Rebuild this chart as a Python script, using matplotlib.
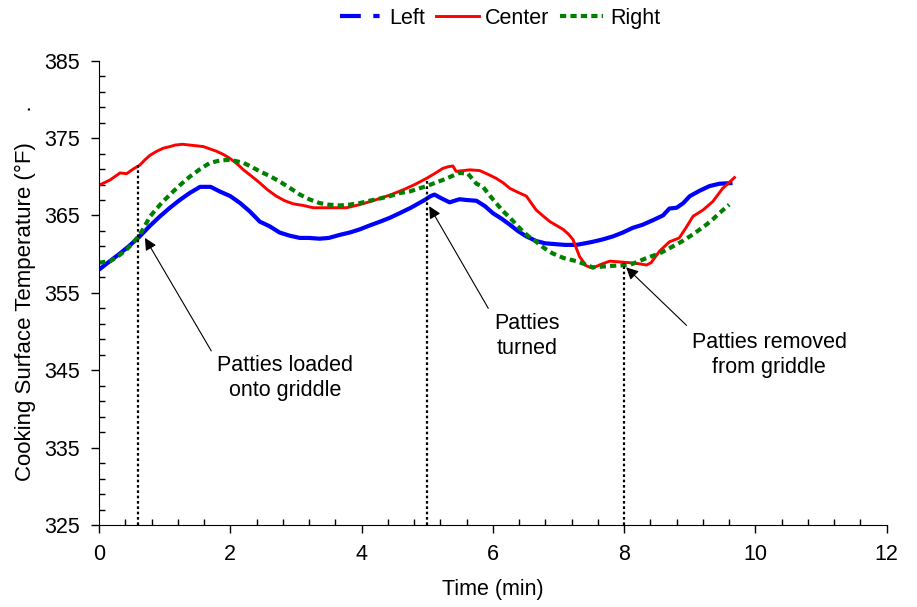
import matplotlib
matplotlib.use('Agg')
import matplotlib.pyplot as plt
from matplotlib.lines import Line2D
from matplotlib.ticker import MultipleLocator

plt.rcParams['font.family'] = ['Liberation Sans', 'DejaVu Sans']

# temperature traces (min, degF)
left_t = [0, 0.15, 0.32, 0.45, 0.62, 0.78, 0.93, 1.08, 1.23, 1.38, 1.54, 1.7,
          1.84, 2.0, 2.15, 2.3, 2.45, 2.6, 2.75, 2.9, 3.06, 3.2, 3.36, 3.5,
          3.67, 3.82, 3.97, 4.12, 4.28, 4.43, 4.58, 4.75, 4.96, 5.05, 5.11,
          5.22, 5.34, 5.49, 5.6, 5.75, 5.88, 6.0, 6.13, 6.26, 6.38, 6.51,
          6.66, 6.8, 6.95, 7.1, 7.27, 7.4, 7.52, 7.67, 7.83, 7.98, 8.13, 8.28,
          8.44, 8.59, 8.69, 8.8, 8.9, 9.0, 9.15, 9.3, 9.45, 9.65]
left_y = [358.0, 359.0, 360.1, 361.0, 362.3, 363.7, 364.9, 366.0, 367.0, 367.9,
          368.7, 368.7, 368.1, 367.5, 366.6, 365.5, 364.2, 363.6, 362.8, 362.4,
          362.1, 362.1, 362.0, 362.1, 362.5, 362.8, 363.2, 363.7, 364.2, 364.7,
          365.3, 366.0, 367.0, 367.5, 367.7, 367.2, 366.7, 367.1, 367.0, 366.9,
          366.2, 365.3, 364.6, 363.8, 363.0, 362.3, 361.7, 361.4, 361.3, 361.2,
          361.2, 361.4, 361.6, 361.9, 362.3, 362.8, 363.4, 363.8, 364.4, 365.0,
          365.9, 366.0, 366.6, 367.5, 368.2, 368.8, 369.1, 369.2]

center_t = [0, 0.17, 0.32, 0.42, 0.52, 0.62, 0.7, 0.78, 0.88, 0.98, 1.08, 1.16,
            1.27, 1.38, 1.49, 1.59, 1.69, 1.79, 1.89, 1.99, 2.1, 2.2, 2.32,
            2.45, 2.57, 2.7, 2.83, 2.96, 3.11, 3.26, 3.47, 3.62, 3.77, 3.97,
            4.13, 4.28, 4.45, 4.63, 4.81, 4.99, 5.11, 5.24, 5.32, 5.39, 5.44,
            5.55, 5.65, 5.8, 5.93, 6.05, 6.16, 6.26, 6.38, 6.51, 6.66, 6.77,
            6.87, 6.97, 7.07, 7.15, 7.22, 7.32, 7.42, 7.52, 7.65, 7.78, 7.93,
            8.08, 8.2, 8.34, 8.41, 8.54, 8.69, 8.84, 8.94, 9.05, 9.2, 9.35,
            9.5, 9.68]
center_y = [368.9, 369.6, 370.5, 370.4, 371.0, 371.5, 372.2, 372.8, 373.3,
            373.7, 373.9, 374.1, 374.2, 374.1, 374.0, 373.9, 373.6, 373.3,
            372.9, 372.4, 371.7, 370.9, 370.1, 369.2, 368.3, 367.5, 366.9,
            366.5, 366.3, 366.0, 366.0, 366.0, 366.0, 366.4, 366.8, 367.2,
            367.7, 368.3, 369.0, 369.8, 370.4, 371.1, 371.3, 371.4, 370.7,
            370.8, 370.9, 370.8, 370.3, 369.8, 369.2, 368.5, 368.0, 367.5,
            365.7, 364.9, 364.2, 363.7, 363.2, 362.6, 361.9, 359.7, 358.5,
            358.2, 358.7, 359.1, 359.0, 358.9, 358.8, 358.6, 358.9, 360.4,
            361.6, 362.1, 363.4, 364.9, 365.7, 366.8, 368.5, 369.9]

right_t = [0, 0.17, 0.3, 0.42, 0.52, 0.62, 0.7, 0.78, 0.93, 1.08, 1.23, 1.38,
           1.54, 1.69, 1.84, 1.99, 2.1, 2.2, 2.32, 2.45, 2.6, 2.75, 2.9, 3.06,
           3.2, 3.36, 3.5, 3.67, 3.82, 3.97, 4.12, 4.28, 4.43, 4.58, 4.73,
           4.99, 5.24, 5.49, 5.62, 5.75, 5.85, 5.95, 6.05, 6.15, 6.26, 6.36,
           6.46, 6.56, 6.66, 6.78, 6.91, 7.08, 7.27, 7.4, 7.52, 7.67, 7.83,
           8.08, 8.2, 8.34, 8.54, 8.74, 8.87, 9.0, 9.12, 9.25, 9.35, 9.45, 9.6]
right_y = [358.9, 359.1, 359.8, 360.6, 361.5, 362.5, 363.7, 364.9, 366.4,
           367.7, 368.9, 370.0, 371.0, 371.8, 372.1, 372.2, 372.0, 371.8,
           371.3, 370.7, 370.1, 369.4, 368.6, 367.7, 367.1, 366.6, 366.4,
           366.3, 366.4, 366.6, 366.9, 367.2, 367.5, 367.9, 368.1, 368.8,
           369.6, 370.5, 370.4, 369.1, 368.7, 367.6, 366.6, 365.6, 364.7,
           363.8, 362.9, 362.2, 361.6, 360.8, 360.1, 359.5, 359.1, 358.7,
           358.3, 358.4, 358.5, 358.6, 359.0, 359.5, 360.1, 361.0, 361.6,
           362.3, 363.0, 363.8, 364.5, 365.3, 366.4]

# events: vertical marker lines
event_t = [0.6, 5.0, 8.0]
event_top = [371.5, 369.6, 358.9]

# annotations: label, label position, arrow tail, arrow tip
labels = ['Patties loaded\nonto griddle', 'Patties\nturned',
          'Patties removed\nfrom griddle']
label_xy = [(2.84, 344.0), (6.52, 349.4), (10.21, 347.0)]
tail_xy = [(1.71, 347.5), (5.93, 353.0), (8.95, 350.8)]
tip_xy = [(0.70, 362.1), (5.03, 366.2), (8.03, 358.3)]

FS = 15.5

fig = plt.figure(figsize=(9.17, 6.07), dpi=100)
ax = fig.add_axes([0.108, 0.135, 0.859, 0.765])

ax.plot(left_t, left_y, color='#0000FF', lw=3, solid_capstyle='butt')
ax.plot(center_t, center_y, color='#FF0000', lw=2.1)
ax.plot(right_t, right_y, color='#008000', lw=3, linestyle=(0, (1.5, 1)))

for t, top in zip(event_t, event_top):
    ax.plot([t, t], [325, top], color='black', lw=1.6,
            linestyle=(0, (1.2, 1.2)))

for lab, pos, tail, tip in zip(labels, label_xy, tail_xy, tip_xy):
    ax.annotate('', xy=tip, xytext=tail,
                arrowprops=dict(arrowstyle='-|>', color='black', lw=0.8,
                                mutation_scale=18, shrinkA=0, shrinkB=0))
    ax.text(pos[0], pos[1], lab, ha='center', va='center', fontsize=FS,
            linespacing=1.25)

ax.set_xlim(0, 12)
ax.set_ylim(325, 385)
ax.xaxis.set_major_locator(MultipleLocator(2))
ax.xaxis.set_minor_locator(MultipleLocator(0.4))
ax.yaxis.set_major_locator(MultipleLocator(10, offset=5))
ax.yaxis.set_minor_locator(MultipleLocator(2, offset=1))
ax.tick_params(which='major', direction='out', length=6, width=1,
               labelsize=FS, pad=8)
ax.tick_params(which='minor', direction='in', length=4, width=1)
ax.spines['top'].set_visible(False)
ax.spines['right'].set_visible(False)

ax.set_xlabel('Time (min)', fontsize=FS, labelpad=10)
ax.set_ylabel('Cooking Surface Temperature (°F)     .', fontsize=16,
              labelpad=6)

handles = [
    Line2D([], [], color='#0000FF', lw=3, linestyle=(0, (5, 3, 1.5, 3))),
    Line2D([], [], color='#FF0000', lw=2.1),
    Line2D([], [], color='#008000', lw=3, linestyle=(0, (1.5, 1))),
]
fig.legend(handles, ['Left', 'Center', 'Right'], loc='center',
           bbox_to_anchor=(0.545, 0.97), ncol=3, frameon=False, fontsize=FS,
           handlelength=2.0, handletextpad=0.3, columnspacing=0.5)

fig.savefig('out.png', dpi=100)
